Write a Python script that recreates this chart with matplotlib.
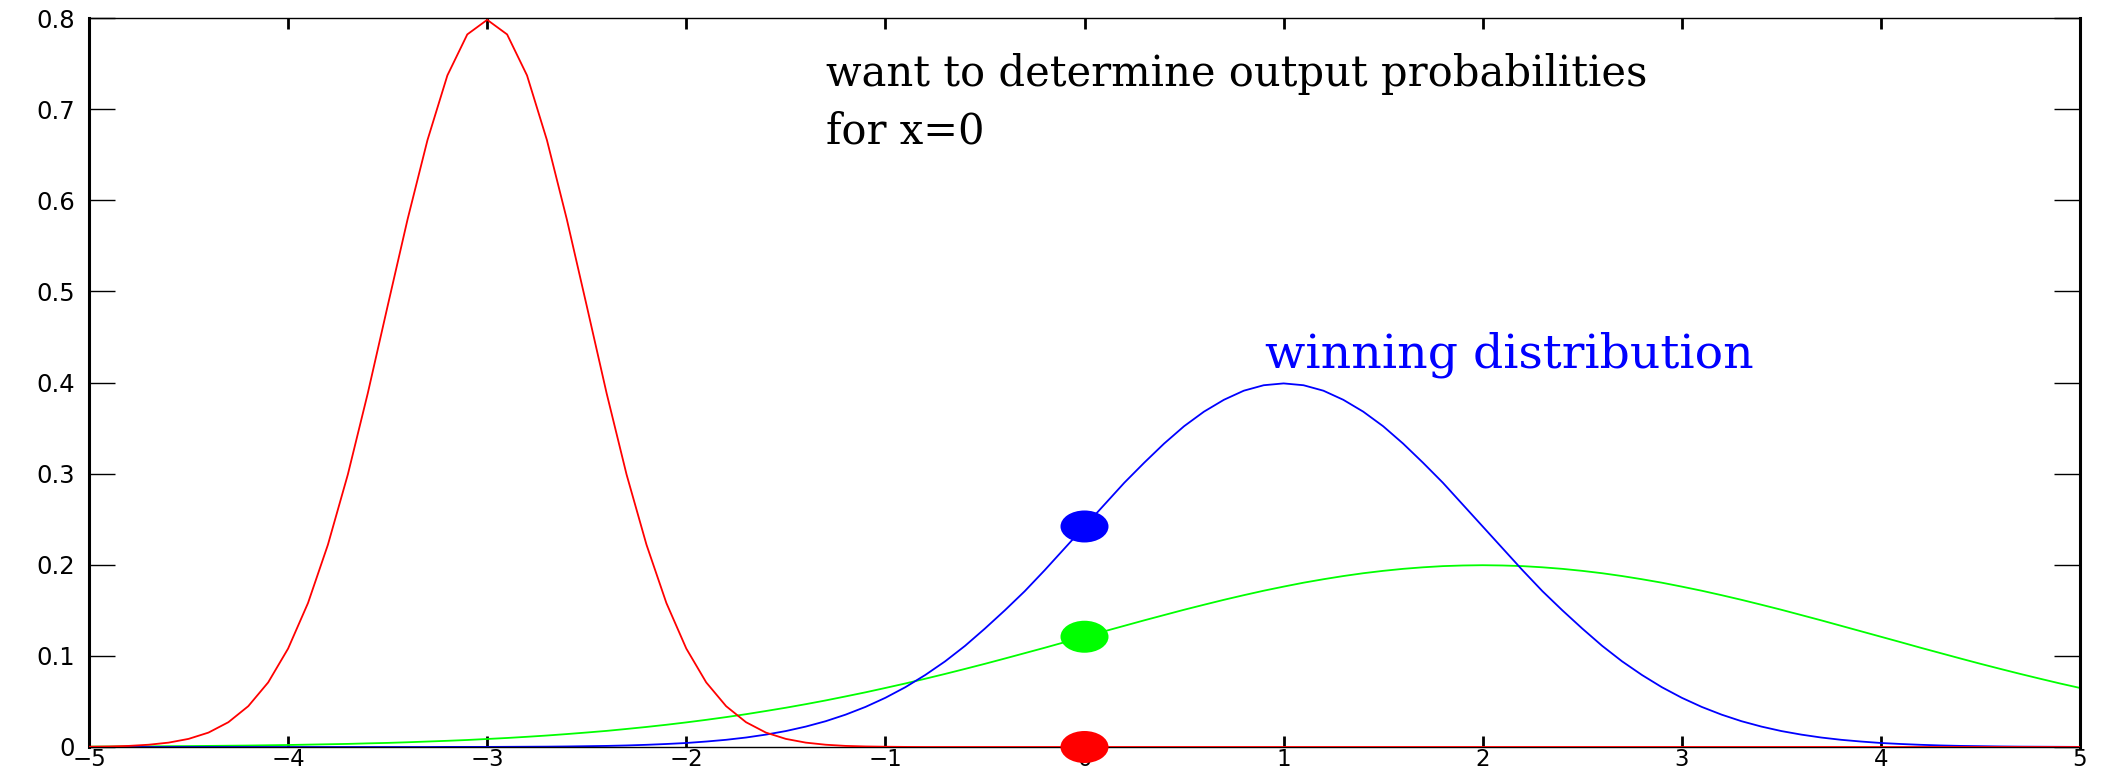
import numpy as np
import matplotlib
matplotlib.use("Agg")
import matplotlib.pyplot as plt
from matplotlib.patches import Ellipse

# Sampling grid for the three class-conditional densities
x_grid = np.linspace(-5.0, 5.0, 101)

# Red density (narrow, centred near -3)
red_pdf = [
    0.0003, 0.0006, 0.0012, 0.0025, 0.0048, 0.0089, 0.0158, 0.0272, 0.0448, 0.0709,
    0.108, 0.158, 0.222, 0.299, 0.388, 0.484, 0.579, 0.666, 0.737, 0.782,
    0.798,
    0.782, 0.737, 0.666, 0.579, 0.484, 0.388, 0.299, 0.222, 0.158, 0.108,
    0.0709, 0.0448, 0.0272, 0.0158, 0.0089, 0.0048, 0.0025, 0.0012, 0.0006, 0.0003,
    0.0001, 0.0, 0.0, 0.0, 0.0, 0.0, 0.0, 0.0, 0.0, 0.0,
    0.0, 0.0, 0.0, 0.0, 0.0, 0.0, 0.0, 0.0, 0.0, 0.0,
    0.0, 0.0, 0.0, 0.0, 0.0, 0.0, 0.0, 0.0, 0.0, 0.0,
    0.0, 0.0, 0.0, 0.0, 0.0, 0.0, 0.0, 0.0, 0.0, 0.0,
    0.0, 0.0, 0.0, 0.0, 0.0, 0.0, 0.0, 0.0, 0.0, 0.0,
    0.0, 0.0, 0.0, 0.0, 0.0, 0.0, 0.0, 0.0, 0.0, 0.0,
]

# Blue density (the winning one, centred near 1)
blue_pdf = [
    0.0, 0.0, 0.0, 0.0, 0.0, 0.0, 0.0, 0.0, 0.0, 0.0,
    0.0, 0.0, 0.0, 0.0, 0.0, 0.0, 0.0, 0.0, 0.0001, 0.0001,
    0.0001, 0.0002, 0.0003, 0.0004, 0.0006, 0.0009, 0.0012, 0.0017, 0.0024, 0.0033,
    0.0044, 0.0060, 0.0079, 0.0104, 0.0136, 0.0175, 0.0224, 0.0283, 0.0355, 0.0440,
    0.0540, 0.0656, 0.0790, 0.0940, 0.111, 0.130, 0.150, 0.171, 0.194, 0.218,
    0.242, 0.266, 0.290, 0.312, 0.333, 0.352, 0.368, 0.381, 0.391, 0.397,
    0.399,
    0.397, 0.391, 0.381, 0.368, 0.352, 0.333, 0.312, 0.290, 0.266, 0.242,
    0.218, 0.194, 0.171, 0.150, 0.130, 0.111, 0.0940, 0.0790, 0.0656, 0.0540,
    0.0440, 0.0355, 0.0283, 0.0224, 0.0175, 0.0136, 0.0104, 0.0079, 0.0060, 0.0044,
    0.0033, 0.0024, 0.0017, 0.0012, 0.0009, 0.0006, 0.0004, 0.0003, 0.0002, 0.0001,
]

# Green density (broad, centred near 2)
green_pdf = [
    0.0004, 0.0005, 0.0006, 0.0007, 0.0009, 0.0010, 0.0012, 0.0014, 0.0016, 0.0019,
    0.0022, 0.0026, 0.0030, 0.0034, 0.0040, 0.0045, 0.0052, 0.0060, 0.0068, 0.0077,
    0.0088, 0.0099, 0.0112, 0.0126, 0.0142, 0.0159, 0.0177, 0.0198, 0.0220, 0.0244,
    0.0270, 0.0298, 0.0328, 0.0360, 0.0395, 0.0431, 0.0470, 0.0511, 0.0555, 0.0600,
    0.0648, 0.0697, 0.0749, 0.0802, 0.0857, 0.0913, 0.0971, 0.1030, 0.1089, 0.1150,
    0.1210, 0.1270, 0.1330, 0.1390, 0.1448, 0.1506, 0.1561, 0.1615, 0.1666, 0.1715,
    0.1760, 0.1803, 0.1841, 0.1876, 0.1907, 0.1933, 0.1955, 0.1972, 0.1985, 0.1992,
    0.1995,
    0.1992, 0.1985, 0.1972, 0.1955, 0.1933, 0.1907, 0.1876, 0.1841, 0.1803, 0.1760,
    0.1715, 0.1666, 0.1615, 0.1561, 0.1506, 0.1448, 0.1390, 0.1330, 0.1270, 0.1210,
    0.1150, 0.1089, 0.1030, 0.0971, 0.0913, 0.0857, 0.0802, 0.0749, 0.0697, 0.0648,
]

# Output probabilities evaluated at the query point x = 0
query_x = 0.0
query_values = [0.242, 0.121, 0.0]
query_colors = ["#0000ff", "#00ff00", "#ff0000"]

x_ticks = [-5, -4, -3, -2, -1, 0, 1, 2, 3, 4, 5]
x_tick_labels = ["\u22125", "\u22124", "\u22123", "\u22122", "\u22121", "0", "1", "2", "3", "4", "5"]
y_ticks = [0, 0.1, 0.2, 0.3, 0.4, 0.5, 0.6, 0.7, 0.8]
y_tick_labels = ["0", "0.1", "0.2", "0.3", "0.4", "0.5", "0.6", "0.7", "0.8"]

W, H, DPI = 2107, 776, 100
fig = plt.figure(figsize=(W / DPI, H / DPI), dpi=DPI)
ax = fig.add_axes([89 / W, 1 - 747 / H, (2080 - 89) / W, (747 - 18) / H])

ax.plot(x_grid, green_pdf, color="#00ff00", lw=1.3, zorder=2)
ax.plot(x_grid, blue_pdf, color="#0000ff", lw=1.3, zorder=2)
ax.plot(x_grid, red_pdf, color="#ff0000", lw=1.3, zorder=3)

ax.set_xlim(-5, 5)
ax.set_ylim(0, 0.8)

# Filled oval markers at x = 0 on each curve
px_per_x = (2080 - 89) / 10.0
px_per_y = (747 - 18) / 0.8
for val, col in zip(query_values, query_colors):
    ax.add_patch(Ellipse((query_x, val), width=48 / px_per_x, height=32 / px_per_y,
                         facecolor=col, edgecolor="none", zorder=5, clip_on=False))

ax.set_xticks(x_ticks)
ax.set_xticklabels(x_tick_labels)
ax.set_yticks(y_ticks)
ax.set_yticklabels(y_tick_labels)

ax.tick_params(axis="x", direction="in", length=8, width=2, top=True, bottom=True,
               pad=1, labelsize=16.5)
ax.tick_params(axis="y", direction="in", length=19, width=1, left=True, right=True,
               pad=10, labelsize=17.5)
for lab in ax.get_xticklabels() + ax.get_yticklabels():
    lab.set_fontfamily("DejaVu Sans")

for side in ("left", "right"):
    ax.spines[side].set_linewidth(2.2)
for side in ("top", "bottom"):
    ax.spines[side].set_linewidth(1.0)

ax.text(-1.30, 0.725, "want to determine output probabilities",
        family="DejaVu Serif", fontsize=30, color="black", va="baseline", ha="left")
ax.text(-1.30, 0.662, "for x=0",
        family="DejaVu Serif", fontsize=30, color="black", va="baseline", ha="left")
ax.text(0.905, 0.417, "winning distribution",
        family="DejaVu Serif", fontsize=34, color="#0000ff", va="baseline", ha="left")

fig.savefig("out.png", dpi=DPI)
